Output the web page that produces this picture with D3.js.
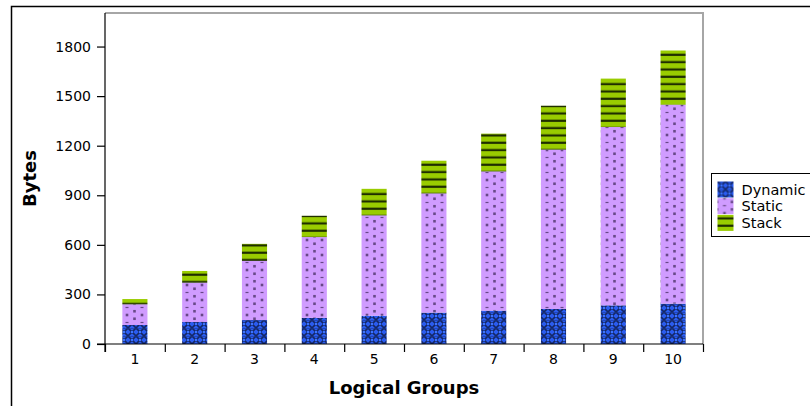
<!DOCTYPE html>
<html>
<head>
<meta charset="utf-8">
<script src="https://cdn.jsdelivr.net/npm/d3@7"></script>
<style>
  html, body { margin: 0; padding: 0; background: #fff; }
  svg { display: block; font-family: "DejaVu Sans", sans-serif; }
</style>
</head>
<body>
<svg id="chart" width="810" height="406"></svg>
<script>
// Memory usage per logical group, stacked by segment
const groups = ["1", "2", "3", "4", "5", "6", "7", "8", "9", "10"];
const dynamicBytes = [115, 133, 145, 158, 171, 190, 202, 212, 234, 244];
const staticBytes  = [125, 238, 358, 489, 607, 721, 842, 964, 1079, 1204];
const stackBytes   = [32, 71, 103, 129, 161, 198, 229, 266, 293, 328];
const seriesNames  = ["Dynamic", "Static", "Stack"];
const yTicks       = [0, 300, 600, 900, 1200, 1500, 1800];

const svg = d3.select("#chart");
const W = 810, H = 406;
const plot = { left: 105, right: 703, top: 13, bottom: 344 };

// ---- fill patterns ----
const defs = svg.append("defs");

// Dynamic: blue with dark diamond lattice
const pDyn = defs.append("pattern").attr("id", "pat-dynamic")
  .attr("patternUnits", "userSpaceOnUse").attr("width", 8).attr("height", 8);
pDyn.append("rect").attr("width", 8).attr("height", 8).attr("fill", "#2a5cf0");
pDyn.append("path").attr("d", "M0,0 L8,8 M8,0 L0,8")
  .attr("stroke", "#142766").attr("stroke-width", 1.6).attr("fill", "none");
pDyn.append("rect").attr("x", 3).attr("y", 3).attr("width", 2).attr("height", 2).attr("fill", "#3d74ff");
pDyn.append("rect").attr("x", 0).attr("y", 0).attr("width", 8).attr("height", 0.9).attr("fill", "#1b3488").attr("opacity", 0.6);

// Static: lilac with staggered dots and dashes
const pSta = defs.append("pattern").attr("id", "pat-static")
  .attr("patternUnits", "userSpaceOnUse").attr("width", 15).attr("height", 15)
  .attr("x", 127);
pSta.append("rect").attr("width", 15).attr("height", 15).attr("fill", "#d09cff");
const dot = "#684888";
[[0, 0], [15, 0], [0, 15], [15, 15], [7.5, 3.75], [7.5, 11.25]].forEach(([cx, cy]) => {
  pSta.append("rect").attr("x", cx - 1.3).attr("y", cy - 1.3)
    .attr("width", 2.6).attr("height", 2.6).attr("fill", dot);
});
[[0, 7.5], [15, 7.5]].forEach(([cx, cy]) => {
  pSta.append("rect").attr("x", cx - 1.5).attr("y", cy - 0.6)
    .attr("width", 3).attr("height", 1.2).attr("fill", dot);
});

// Stack: green with dark horizontal stripes
const pStk = defs.append("pattern").attr("id", "pat-stack")
  .attr("patternUnits", "userSpaceOnUse").attr("width", 8).attr("height", 7.33);
pStk.append("rect").attr("width", 8).attr("height", 7.33).attr("fill", "#99cc00");
pStk.append("rect").attr("y", 2.4).attr("width", 8).attr("height", 2.2).attr("fill", "#1f2e00");

const fills = ["url(#pat-dynamic)", "url(#pat-static)", "url(#pat-stack)"];

// ---- outer frame ----
svg.append("path")
  .attr("d", `M11.5,${H} L11.5,6.5 L${W},6.5`)
  .attr("fill", "none").attr("stroke", "#000").attr("stroke-width", 1.5);

// ---- scales ----
const x = d3.scaleBand().domain(groups).range([plot.left, plot.right]).padding(0);
const xEdges = d3.scaleLinear().domain([0, groups.length]).range([plot.left, plot.right]);
const y = d3.scaleLinear().domain([0, 2000]).range([plot.bottom, plot.top + 0.5]);
const barW = x.bandwidth() * 0.42;

// ---- stacked bars ----
const rows = groups.map((g, i) => ({ group: g, Dynamic: dynamicBytes[i], Static: staticBytes[i], Stack: stackBytes[i] }));
const stacked = d3.stack().keys(seriesNames)(rows);

svg.append("g").selectAll("g")
  .data(stacked)
  .join("g")
  .attr("fill", (d, i) => fills[i])
  .selectAll("rect")
  .data(d => d)
  .join("rect")
  .attr("x", d => x(d.data.group) + (x.bandwidth() - barW) / 2)
  .attr("y", d => y(d[1]))
  .attr("width", barW)
  .attr("height", d => y(d[0]) - y(d[1]));

// ---- plot frame (top / right) ----
svg.append("path")
  .attr("d", `M${plot.left},${plot.top} L${plot.right},${plot.top} L${plot.right},${plot.bottom}`)
  .attr("fill", "none").attr("stroke", "#a6a6a6").attr("stroke-width", 2);

// ---- axes ----
const yAxis = svg.append("g")
  .attr("transform", `translate(${plot.left},0)`)
  .call(d3.axisLeft(y).tickValues(yTicks).tickSize(8).tickPadding(6).tickFormat(d3.format("d")));
yAxis.select(".domain").attr("d", `M0,${plot.top}V${plot.bottom + 8}`);

const xEdgeAxis = svg.append("g")
  .attr("transform", `translate(0,${plot.bottom})`)
  .call(d3.axisBottom(xEdges).tickValues(d3.range(0, groups.length + 1)).tickSize(8).tickFormat(""));
xEdgeAxis.select(".domain").attr("d", `M${plot.left - 8},0H${plot.right}`);

const xLabelAxis = svg.append("g")
  .attr("transform", `translate(0,${plot.bottom})`)
  .call(d3.axisBottom(x).tickSize(0).tickPadding(10));
xLabelAxis.select(".domain").remove();

svg.selectAll(".tick text")
  .attr("font-family", "DejaVu Sans, sans-serif")
  .attr("font-size", 14).attr("fill", "#000");
svg.selectAll(".tick line, .domain").attr("stroke", "#000").attr("stroke-width", 1.2);

// ---- axis titles ----
svg.append("text")
  .attr("x", (plot.left + plot.right) / 2).attr("y", 394)
  .attr("text-anchor", "middle")
  .attr("font-size", 18).attr("font-weight", "bold")
  .text("Logical Groups");

svg.append("text")
  .attr("transform", `translate(36,${(plot.top + plot.bottom) / 2}) rotate(-90)`)
  .attr("text-anchor", "middle")
  .attr("font-size", 18).attr("font-weight", "bold")
  .text("Bytes");

// ---- legend ----
const legend = svg.append("g").attr("transform", "translate(711.5,173.5)");
legend.append("rect").attr("width", 120).attr("height", 63)
  .attr("fill", "#fff").attr("stroke", "#000").attr("stroke-width", 1);
const items = legend.selectAll("g.item")
  .data(seriesNames)
  .join("g").attr("class", "item")
  .attr("transform", (d, i) => `translate(6,${8 + i * 16.7})`);
items.append("rect").attr("width", 16).attr("height", 16)
  .attr("fill", (d, i) => fills[i]);
items.append("text").attr("x", 24).attr("y", 13)
  .attr("font-size", 14.5).attr("fill", "#000")
  .text(d => d);
</script>
</body>
</html>
